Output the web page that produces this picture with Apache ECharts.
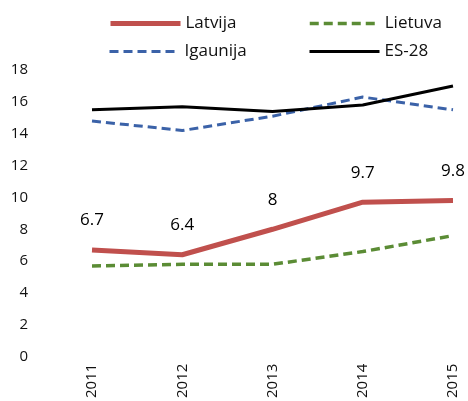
<!DOCTYPE html>
<html>
<head>
<meta charset="utf-8">
<script src="https://cdn.jsdelivr.net/npm/echarts@6/dist/echarts.min.js"></script>
<style>
html,body{margin:0;padding:0;background:#fff;}
#line{width:468px;height:401px;}
</style>
</head>
<body>
<div id="line"></div>
<script>
var years = ['2011', '2012', '2013', '2014', '2015'];
var latvija = [6.7, 6.4, 8, 9.7, 9.8];
var lietuva = [5.7, 5.8, 5.8, 6.6, 7.6];
var igaunija = [14.8, 14.2, 15.1, 16.3, 15.5];
var es28 = [15.5, 15.7, 15.4, 15.8, 17.0];

var font = '"Open Sans", sans-serif';

// leģendas katra savā vietā, lai kolonnas sakristu
function leg(name, left, top, w) {
    return {
        data: [name], left: left, top: top,
        itemWidth: 70, itemHeight: 14, itemGap: 6,
        itemStyle: {opacity: 0},
        lineStyle: {width: w},
        textStyle: {fontFamily: font, fontSize: 17, color: '#111'}
    };
}

var myChart = echarts.init(document.getElementById('line'));
myChart.setOption({
    animation: false,
    legend: [
        leg('Latvija', 103, 10, 5),
        leg('Lietuva', 303, 10, 3.5),
        leg('Igaunija', 103, 38, 3),
        leg('ES-28', 303, 38, 3)
    ],
    grid: {left: 92, right: 15, top: 70, bottom: 41},
    xAxis: {
        type: 'category',
        data: years,
        boundaryGap: false,
        axisLine: {show: false},
        axisTick: {show: false},
        axisLabel: {rotate: 90, margin: 7, fontFamily: font, fontSize: 15, color: '#111'}
    },
    yAxis: {
        type: 'value',
        min: 0, max: 18, interval: 2,
        splitLine: {show: false},
        axisLine: {show: false},
        axisTick: {show: false},
        axisLabel: {margin: 64, fontFamily: font, fontSize: 15, color: '#111'}
    },
    series: [{
        name: 'Latvija', type: 'line', data: latvija,
        symbol: 'none', z: 5,
        lineStyle: {color: '#c0504d', width: 5},
        itemStyle: {color: '#c0504d'}
    }, {
        name: 'Lietuva', type: 'line', data: lietuva,
        symbol: 'none',
        lineStyle: {color: '#5b8c35', width: 3.5, type: [9, 5]},
        itemStyle: {color: '#5b8c35'}
    }, {
        name: 'Igaunija', type: 'line', data: igaunija,
        symbol: 'none',
        lineStyle: {color: '#3b62a8', width: 3, type: [9, 5]},
        itemStyle: {color: '#3b62a8'}
    }, {
        name: 'ES-28', type: 'line', data: es28,
        symbol: 'none',
        lineStyle: {color: '#000', width: 3},
        itemStyle: {color: '#000'}
    }, {
        // tikai Latvijas vērtību uzraksti
        name: 'Latvija-labels', type: 'scatter', data: latvija,
        symbolSize: 2, itemStyle: {color: 'rgba(0,0,0,0)'}, silent: true, z: 6,
        label: {
            show: true, position: 'top', distance: 20, opacity: 1,
            fontFamily: font, fontSize: 17, color: '#000',
            textBorderWidth: 0
        }
    }]
});
</script>
</body>
</html>
